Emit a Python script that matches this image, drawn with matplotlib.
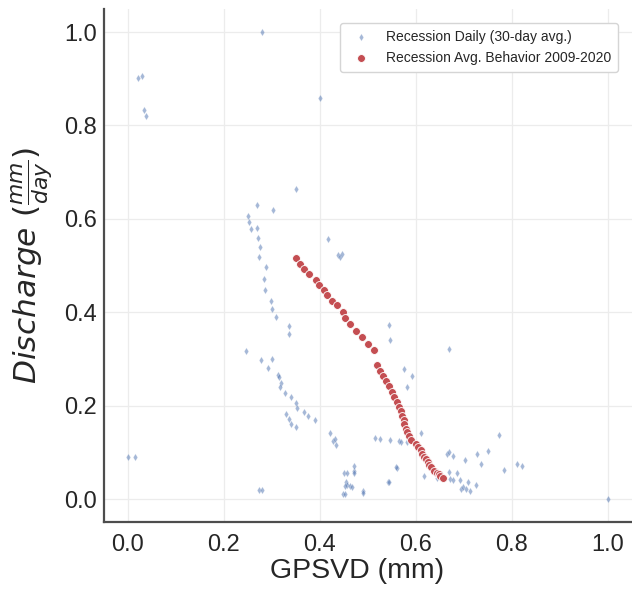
import matplotlib
matplotlib.use("Agg")
import matplotlib.pyplot as plt
import numpy as np

# Recession daily (30-day avg.) points
daily_x = [0.279, 0.021, 0.030, 0.033, 0.037, 0.399, 0.349, 0.269, 0.303, 0.251,
           0.253, 0.256, 0.269, 0.270, 0.276, 0.272, 0.288, 0.417, 0.438, 0.442,
           0.446, 0.283, 0.285, 0.297, 0.299, 0.309, 0.335, 0.335, 0.245, 0.278,
           0.299, 0.292, 0.312, 0.315, 0.318, 0.317, 0.327, 0.340, 0.349, 0.353,
           0.366, 0.375, 0.390, 0.330, 0.336, 0.340, 0.351, 0.420, 0.428, 0.432,
           0.433, 0.544, 0.546, 0.669, 0.575, 0.591, 0.581, 0.514, 0.524, 0.546,
           0.565, 0.568, 0.582, 0.610, 0.772, 0.665, 0.669, 0.678, 0.727, 0.751,
           0.703, 0.735, 0.810, 0.821, 0.784, 0.668, 0.686, 0.616, 0.643, 0.671,
           0.678, 0.692, 0.709, 0.724, 0.694, 0.697, 0.704, 0.713, 1.000, 0.272,
           0.279, 0.000, 0.015, 0.451, 0.457, 0.470, 0.471, 0.470, 0.560, 0.558,
           0.455, 0.457, 0.452, 0.463, 0.466, 0.447, 0.453, 0.489, 0.490, 0.542,
           0.544]
daily_y = [1.000, 0.902, 0.905, 0.833, 0.820, 0.859, 0.663, 0.629, 0.619, 0.607,
           0.593, 0.579, 0.581, 0.560, 0.540, 0.518, 0.496, 0.556, 0.522, 0.519,
           0.525, 0.471, 0.447, 0.425, 0.406, 0.389, 0.370, 0.353, 0.316, 0.298,
           0.299, 0.281, 0.266, 0.261, 0.249, 0.240, 0.228, 0.218, 0.206, 0.196,
           0.186, 0.178, 0.169, 0.182, 0.171, 0.161, 0.154, 0.141, 0.124, 0.128,
           0.116, 0.372, 0.340, 0.321, 0.278, 0.264, 0.240, 0.131, 0.129, 0.126,
           0.124, 0.123, 0.122, 0.142, 0.138, 0.096, 0.101, 0.093, 0.097, 0.103,
           0.084, 0.076, 0.076, 0.071, 0.062, 0.057, 0.055, 0.050, 0.045, 0.042,
           0.041, 0.040, 0.036, 0.031, 0.022, 0.025, 0.022, 0.017, 0.000, 0.019,
           0.019, 0.091, 0.091, 0.056, 0.056, 0.060, 0.071, 0.056, 0.066, 0.069,
           0.036, 0.031, 0.029, 0.027, 0.025, 0.010, 0.010, 0.017, 0.014, 0.036,
           0.037]

# Recession average behavior 2009-2020
avg_x = [0.350, 0.358, 0.367, 0.378, 0.392, 0.397, 0.408, 0.415, 0.424, 0.436,
         0.447, 0.452, 0.463, 0.476, 0.488, 0.501, 0.513, 0.519, 0.526, 0.532,
         0.537, 0.544, 0.549, 0.554, 0.560, 0.565, 0.568, 0.571, 0.574, 0.576,
         0.579, 0.582, 0.586, 0.590, 0.601, 0.605, 0.610, 0.612, 0.617, 0.621,
         0.624, 0.628, 0.631, 0.638, 0.643, 0.647, 0.651, 0.656]
avg_y = [0.517, 0.504, 0.493, 0.481, 0.470, 0.459, 0.448, 0.437, 0.425, 0.415,
         0.400, 0.388, 0.374, 0.360, 0.346, 0.333, 0.320, 0.286, 0.275, 0.264,
         0.253, 0.242, 0.230, 0.219, 0.208, 0.198, 0.188, 0.178, 0.169, 0.160,
         0.151, 0.143, 0.135, 0.126, 0.118, 0.112, 0.105, 0.096, 0.091, 0.085,
         0.080, 0.073, 0.068, 0.061, 0.056, 0.054, 0.050, 0.046]

ticks = [0.0, 0.2, 0.4, 0.6, 0.8, 1.0]
tick_labels = ["0.0", "0.2", "0.4", "0.6", "0.8", "1.0"]

plt.rcParams['font.family'] = ['Liberation Sans', 'DejaVu Sans']

fig = plt.figure(figsize=(6.32, 5.94), dpi=100)
ax = fig.add_axes([104/632, 1 - 522.4/594, (632 - 104)/632, (522.4 - 8.65)/594])

ax.scatter(daily_x, daily_y, marker='d', s=14, color='#4c72b0', alpha=0.5,
           edgecolors='white', linewidths=0.3, label='Recession Daily (30-day avg.)',
           zorder=3)
ax.scatter(avg_x, avg_y, marker='o', s=32, color='#c44e52',
           edgecolors='white', linewidths=0.6, label='Recession Avg. Behavior 2009-2020',
           zorder=4)

ax.set_xlim(-0.05, 1.05)
ax.set_ylim(-0.05, 1.05)
ax.set_xticks(ticks)
ax.set_xticklabels(tick_labels)
ax.set_yticks(ticks)
ax.set_yticklabels(tick_labels)
ax.tick_params(axis='both', length=0, labelsize=17, labelcolor='#262626')
ax.tick_params(axis='x', pad=8)
ax.tick_params(axis='y', pad=5)

ax.grid(True, color='#ececec', linewidth=0.9, zorder=0)
ax.set_axisbelow(True)
for side in ['top', 'right']:
    ax.spines[side].set_visible(False)
for side in ['left', 'bottom']:
    ax.spines[side].set_color('#4d4d4d')
    ax.spines[side].set_linewidth(1.6)

ax.set_xlabel('GPSVD (mm)', fontsize=20.5, color='#262626')
ax.xaxis.set_label_coords((357 - 104) / 528, -0.07)
ax.set_ylabel(r'$Discharge\ (\frac{mm}{day})$', fontsize=22.5, color='#262626')
ax.yaxis.set_label_coords(-0.093, 0.5)

leg = ax.legend(loc='upper right', bbox_to_anchor=(618/632, 1 - 23/594),
                bbox_transform=fig.transFigure, borderaxespad=0, fontsize=10,
                frameon=True, fancybox=True, framealpha=1, edgecolor='#d5d5d5',
                markerscale=1.0, handletextpad=0.8, borderpad=0.5)
for t in leg.get_texts():
    t.set_color('#262626')

fig.savefig('out.png', dpi=100)
